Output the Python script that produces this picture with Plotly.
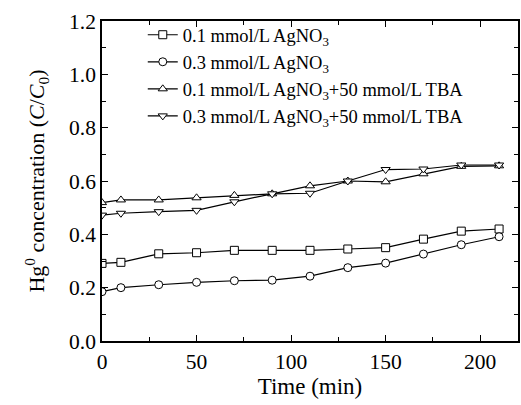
import plotly.graph_objects as go

time_min = [0, 10, 30, 50, 70, 90, 110, 130, 150, 170, 190, 210]
ag01 = [0.291, 0.295, 0.327, 0.331, 0.340, 0.340, 0.340, 0.345, 0.350, 0.382, 0.412, 0.420]
ag03 = [0.185, 0.200, 0.211, 0.220, 0.226, 0.228, 0.243, 0.275, 0.292, 0.326, 0.361, 0.391]
ag01_tba = [0.519, 0.529, 0.529, 0.537, 0.546, 0.552, 0.582, 0.600, 0.597, 0.627, 0.655, 0.657]
ag03_tba = [0.472, 0.479, 0.485, 0.490, 0.522, 0.552, 0.554, 0.600, 0.643, 0.645, 0.660, 0.660]

names = [
    "0.1 mmol/L AgNO<sub>3</sub>",
    "0.3 mmol/L AgNO<sub>3</sub>",
    "0.1 mmol/L AgNO<sub>3</sub>+50 mmol/L TBA",
    "0.3 mmol/L AgNO<sub>3</sub>+50 mmol/L TBA",
]
series = [ag01, ag03, ag01_tba, ag03_tba]
symbols = ["square", "circle", "triangle-up", "triangle-down"]

FONT = "Liberation Serif"
fig = go.Figure()
for i, (nm, ys, sym) in enumerate(zip(names, series, symbols)):
    fig.add_trace(go.Scatter(
        x=time_min, y=ys, name=nm, mode="lines+markers",
        line=dict(color="black", width=1.2),
        marker=dict(symbol=sym, size=8, color="white", line=dict(color="black", width=1)),
        legendgroup=f"g{i}",
    ))

fig.update_layout(
    width=521, height=405,
    margin=dict(l=102, r=1, t=21, b=64),
    paper_bgcolor="white", plot_bgcolor="white",
    font=dict(family=FONT, size=21, color="black"),
    showlegend=True,
    legend=dict(x=0.098, y=1.015, xanchor="left", yanchor="top",
                bgcolor="rgba(0,0,0,0)", font=dict(size=18.5, family=FONT),
                tracegroupgap=0),
    xaxis=dict(
        range=[0, 220], tickvals=[0, 50, 100, 150, 200],
        ticks="inside", ticklen=6, tickwidth=1, tickcolor="black",
        minor=dict(dtick=25, tick0=0, ticks="inside", ticklen=4, tickcolor="black"),
        showline=True, linecolor="black", linewidth=1.5, mirror="ticks",
        showgrid=False, zeroline=False,
        title=dict(text="Time (min)", font=dict(size=23, family=FONT), standoff=4),
        tickfont=dict(size=21.5, family=FONT),
    ),
    yaxis=dict(
        range=[0, 1.2], tickvals=[0, 0.2, 0.4, 0.6, 0.8, 1.0, 1.2], tickformat=".1f",
        ticks="inside", ticklen=6, tickwidth=1, tickcolor="black",
        minor=dict(dtick=0.1, tick0=0, ticks="inside", ticklen=4, tickcolor="black"),
        showline=True, linecolor="black", linewidth=1.5, mirror="ticks",
        showgrid=False, zeroline=False,
        title=dict(text="Hg<sup>0</sup> concentration (<i>C</i>/<i>C</i><sub>0</sub>)",
                   font=dict(size=22, family=FONT), standoff=18),
        tickfont=dict(size=21.5, family=FONT),
    ),
)

fig.write_html("out.html")
